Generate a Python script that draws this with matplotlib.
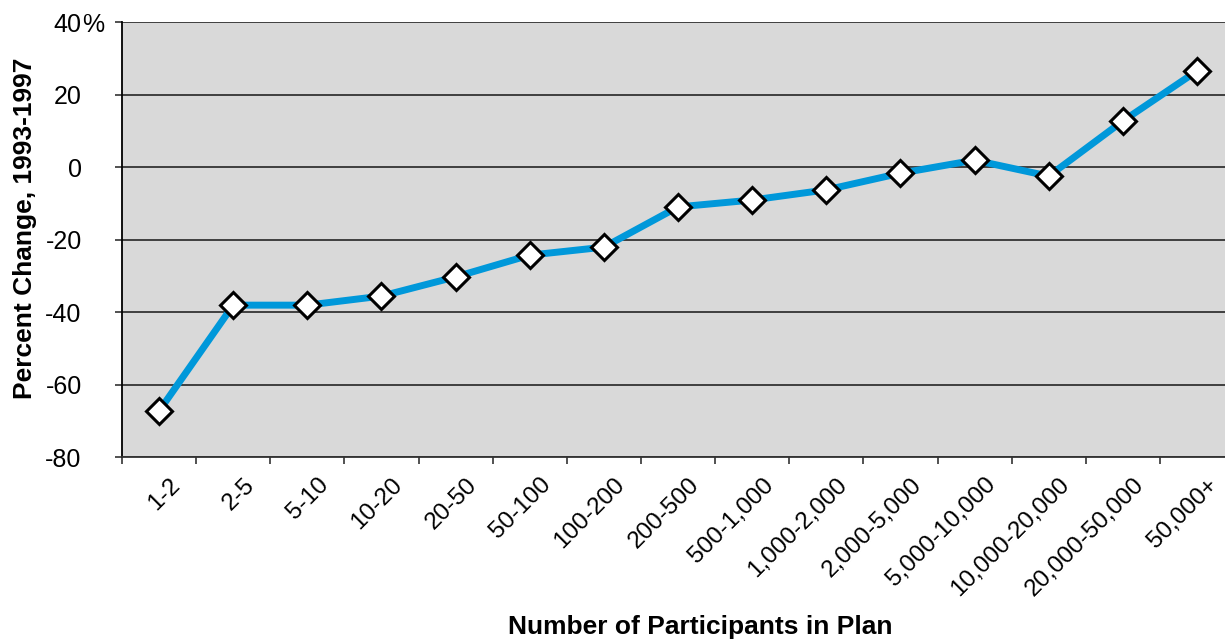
import matplotlib
matplotlib.use("Agg")
from matplotlib import pyplot as plt
from matplotlib.transforms import ScaledTranslation
import numpy as np

plt.rcParams['font.family'] = ['Liberation Sans', 'DejaVu Sans']

groups = ['1-2', '2-5', '5-10', '10-20', '20-50', '50-100', '100-200', '200-500',
          '500-1,000', '1,000-2,000', '2,000-5,000', '5,000-10,000',
          '10,000-20,000', '20,000-50,000', '50,000+']
pct_change = [-67.3, -38.1, -38.1, -35.6, -30.3, -24.3, -22.1, -11.0,
              -9.1, -6.3, -1.7, 1.9, -2.5, 12.7, 26.5]
y_ticks = [-80, -60, -40, -20, 0, 20, 40]
y_labels = ['-80', '-60', '-40', '-20', '0', '20', '40']

fig = plt.figure(figsize=(12.25, 6.41), dpi=100)
# plot area runs a little past the right edge of the picture, like the original
ax = fig.add_axes([0.0996, 0.287, 0.9078, 0.6786])
ax.set_facecolor('#d9d9d9')

x = np.arange(len(groups))
ax.plot(x, pct_change, color='#0098da', lw=5, marker='D', ms=13.5,
        mfc='white', mec='black', mew=2.2, zorder=3, clip_on=False)

ax.set_xlim(-0.5, len(groups) - 0.5)
ax.set_ylim(-80, 40)
ax.set_yticks(y_ticks)
ax.set_yticklabels(y_labels, fontsize=18)
ax.yaxis.grid(True, color='#333333', lw=1.3)
ax.set_axisbelow(True)
ax.tick_params(axis='y', length=5, width=1.2, color='#333333', pad=24)
# the % sign hangs past the right edge of the other numbers
ax.annotate('%', xy=(0, 40), xycoords=('axes fraction', 'data'),
            xytext=(-29, 0), textcoords='offset points',
            ha='left', va='center_baseline', fontsize=18)

ax.set_xticks(np.arange(len(groups) + 1) - 0.5)
ax.set_xticklabels([])
ax.tick_params(axis='x', which='major', length=5, width=1.2, color='#333333')
ax.set_xticks(x, minor=True)
ax.set_xticklabels(groups, minor=True, rotation=45, ha='right', va='top',
                   rotation_mode='anchor', fontsize=17.5)
ax.tick_params(axis='x', which='minor', length=0, pad=12)
shift = ScaledTranslation(10 / 100, 0, fig.dpi_scale_trans)
for lab in ax.get_xticklabels(minor=True):
    lab.set_transform(lab.get_transform() + shift)

for s in ['top', 'right']:
    ax.spines[s].set_visible(False)
ax.spines['left'].set_color('black')
ax.spines['left'].set_linewidth(1.3)
ax.spines['bottom'].set_color('#333333')
ax.spines['bottom'].set_linewidth(1.3)

ax.set_xlabel('Number of Participants in Plan', fontsize=19, fontweight='bold')
ax.xaxis.set_label_coords((700 - 122) / 1112, -(615 - 457) / 435)
ax.set_ylabel('Percent Change, 1993-1997', fontsize=19, fontweight='bold')
ax.yaxis.set_label_coords(-(122 - 37) / 1112, (457 - 228) / 435)

fig.savefig('out.png', dpi=100)
